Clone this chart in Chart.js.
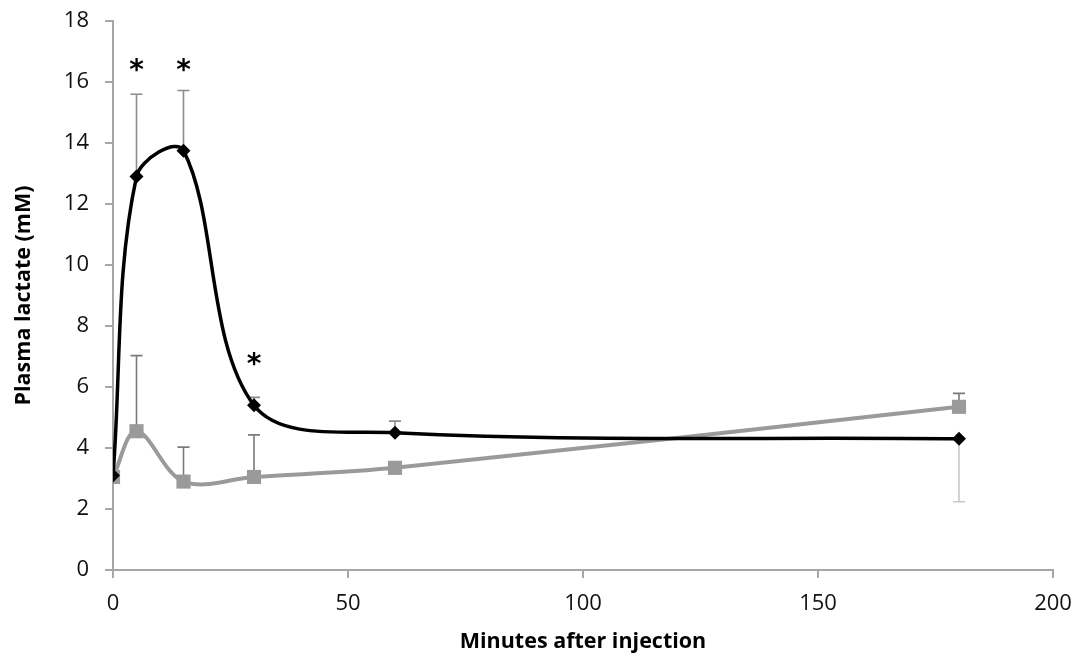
<!DOCTYPE html>
<html>
<head>
<title>Plasma lactate</title>
<script src="https://cdn.jsdelivr.net/npm/chart.js@4.4.1/dist/chart.umd.min.js"></script>
<style>
  html, body { margin: 0; padding: 0; background: #fff; }
</style>
</head>
<body>
<canvas id="lactateChart" width="1078" height="658"></canvas>
<script>
// values
var minutes      = [0, 5, 15, 30, 60, 180];
var lactateBlack = [3.1, 12.9, 13.75, 5.4, 4.5, 4.3];
var lactateGray  = [3.05, 4.55, 2.9, 3.05, 3.35, 5.35];
// error bar ends (null = none)
var blackErrUp   = [null, 15.6, 15.72, 5.66, 4.88, null];
var blackErrDown = [null, null, null, null, null, 2.24];
var grayErrUp    = [null, 7.03, 4.03, 4.43, null, 5.79];
// significance marks
var starMinutes  = [5, 15, 30];
var starLevels   = [16.55, 16.55, 6.9];

var xTicks = [0, 50, 100, 150, 200];

var toPoints = (ys) => minutes.map((m, i) => ({x: m, y: ys[i]}));

// error bars under the lines, asterisks on top
var errorBars = {
    id: 'errorBars',
    beforeDatasetsDraw(chart) {
        var ctx = chart.ctx, xs = chart.scales.x, ys = chart.scales.y;
        var draw = (ends, base, color) => {
            ctx.save();
            ctx.strokeStyle = color;
            ctx.lineWidth = 1.6;
            ends.forEach((v, i) => {
                if (v === null) return;
                var px = xs.getPixelForValue(minutes[i]);
                var p0 = ys.getPixelForValue(base[i]);
                var p1 = ys.getPixelForValue(v);
                ctx.beginPath();
                ctx.moveTo(px, p0); ctx.lineTo(px, p1);
                ctx.moveTo(px - 6, p1); ctx.lineTo(px + 6, p1);
                ctx.stroke();
            });
            ctx.restore();
        };
        draw(blackErrUp, lactateBlack, '#8c8c8c');
        draw(blackErrDown, lactateBlack, '#c8c8c8');
        draw(grayErrUp, lactateGray, '#7a7a7a');
    },
    afterDatasetsDraw(chart) {
        var ctx = chart.ctx, xs = chart.scales.x, ys = chart.scales.y;
        ctx.save();
        ctx.fillStyle = '#000';
        ctx.font = 'bold 28px "DejaVu Sans"';
        ctx.textAlign = 'center';
        ctx.textBaseline = 'middle';
        starMinutes.forEach((m, i) => {
            ctx.fillText('*', xs.getPixelForValue(m), ys.getPixelForValue(starLevels[i]) + 6);
        });
        ctx.restore();
    }
};

var axisColor = '#a6a6a6';
var tickFont = {family: '"Open Sans"', size: 22};
var titleFont = {family: '"Open Sans"', size: 21.5, weight: 'bold'};

new Chart(document.getElementById('lactateChart'), {
    type: 'line',
    data: {
        datasets: [
            {
                label: 'Black',
                data: toPoints(lactateBlack),
                borderColor: '#000',
                backgroundColor: '#000',
                borderWidth: 3.5,
                pointStyle: 'rectRot',
                pointRadius: 7,
                pointBorderWidth: 0,
                tension: 0.35,
                order: 1
            },
            {
                label: 'Gray',
                data: toPoints(lactateGray),
                borderColor: '#9a9a9a',
                backgroundColor: '#9a9a9a',
                borderWidth: 4,
                pointStyle: 'rect',
                pointRadius: 10,
                pointBorderWidth: 0,
                tension: 0.35,
                order: 2
            }
        ]
    },
    options: {
        responsive: false,
        animation: false,
        layout: {padding: {top: 21, right: 25, left: 0, bottom: 0}},
        plugins: {legend: {display: false}, tooltip: {enabled: false}},
        scales: {
            x: {
                type: 'linear',
                min: 0, max: 200,
                afterFit: (s) => { s.height = 88; s.paddingLeft = 0; s.paddingRight = 0; },
                afterBuildTicks: (s) => { s.ticks = xTicks.map(v => ({value: v})); },
                grid: {drawOnChartArea: false, drawTicks: true, tickLength: 8, color: axisColor, lineWidth: 2},
                border: {color: axisColor, width: 2},
                ticks: {font: tickFont, color: '#111', padding: 13, maxRotation: 0},
                title: {display: true, text: 'Minutes after injection', font: titleFont, color: '#000', padding: {bottom: 3}}
            },
            y: {
                min: 0, max: 18,
                afterFit: (s) => { s.width = 113; s.paddingTop = 0; s.paddingBottom = 0; },
                grid: {drawOnChartArea: false, drawTicks: true, tickLength: 8, color: axisColor, lineWidth: 2},
                border: {color: axisColor, width: 2},
                ticks: {stepSize: 2, font: tickFont, color: '#111', padding: 16},
                title: {display: true, text: 'Plasma lactate (mM)', font: titleFont, color: '#000', padding: {top: 11}}
            }
        }
    },
    plugins: [errorBars]
});
</script>
</body>
</html>
